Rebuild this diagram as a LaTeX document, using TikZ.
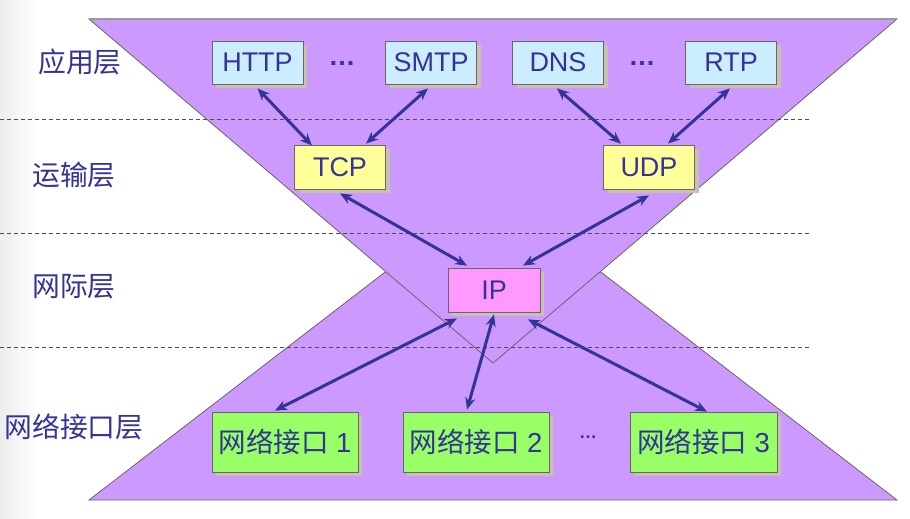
\documentclass[tikz,border=0pt]{standalone}
\usepackage{fontspec}
\setmainfont{Liberation Sans}
\newfontfamily\cjk{Noto Sans CJK SC}
\usetikzlibrary{arrows.meta,shadows}
\definecolor{txtblue}{HTML}{333399}
\definecolor{purp}{HTML}{CC99FF}
\definecolor{edgegray}{HTML}{6E6464}
\definecolor{shadowc}{HTML}{C8C0B0}
\definecolor{appc}{HTML}{CCECFF}
\definecolor{trc}{HTML}{FFFF99}
\definecolor{ipc}{HTML}{FF99FF}
\definecolor{nic}{HTML}{99FF66}
\tikzset{
  proto/.style={draw=edgegray, line width=0.8pt, minimum width=91pt, minimum height=43pt,
    inner sep=0pt, text=txtblue, font=\fontsize{27}{27}\selectfont,
    drop shadow={shadow xshift=4pt, shadow yshift=-4pt, fill=shadowc, opacity=1}},
  nicbox/.style={draw=edgegray, line width=0.8pt, minimum width=146pt, minimum height=60pt,
    inner sep=0pt, fill=nic, text=txtblue, font=\fontsize{27.5}{27.5}\selectfont,
    drop shadow={shadow xshift=4pt, shadow yshift=-4pt, fill=shadowc, opacity=1}},
  layer/.style={text=txtblue, font=\cjk\fontsize{27.8}{27.8}\selectfont, inner sep=0pt},
  dots/.style={text=txtblue, inner sep=0pt},
  link/.style={draw=txtblue, line width=3pt, {Stealth[length=12pt,width=10pt]}-{Stealth[length=12pt,width=10pt]}},
  sep/.style={draw=black!70, line width=0.6pt, dash pattern=on 4pt off 3pt}
}
\begin{document}
\begin{tikzpicture}[x=1pt,y=-1pt]
\useasboundingbox (0,0) rectangle (910,519);
\fill[white] (0,0) rectangle (910,519);
\shade[left color=black!7, right color=white] (0,0) rectangle (40,519);
% bottom triangle
\filldraw[fill=purp, draw=edgegray, line width=0.8pt] (89,500) -- (493,189) -- (897,500) -- cycle;
% top triangle
\filldraw[fill=purp, draw=edgegray, line width=0.8pt] (89,19) -- (897,19) -- (493,363) -- cycle;
\draw[black!40, line width=1.6pt] (89,19) -- (897,19);
% dashed separators
\draw[sep] (0,119) -- (810,119);
\draw[sep] (0,233) -- (810,233);
\draw[sep] (0,347) -- (810,347);
% layer labels
\node[layer] (l1) at (80,62) {应用层};
\node[layer] (l2) at (74,175) {运输层};
\node[layer] (l3) at (74,287) {网际层};
\node[layer] (l4) at (74,427) {网络接口层};
% application protocols
\node[proto, fill=appc] (http) at (257.5,62.5) {HTTP};
\node[dots, font=\bfseries\fontsize{27}{27}\selectfont] (d1) at (342,63) {…};
\node[proto, fill=appc] (smtp) at (431,62.5) {SMTP};
\node[proto, fill=appc] (dns) at (558,62.5) {DNS};
\node[dots, font=\bfseries\fontsize{27}{27}\selectfont] (d2) at (642,63) {…};
\node[proto, fill=appc] (rtp) at (731,62.5) {RTP};
% transport
\node[proto, fill=trc, minimum height=44pt] (tcp) at (340,167) {TCP};
\node[proto, fill=trc, minimum height=44pt] (udp) at (649,167) {UDP};
% internet
\node[proto, fill=ipc, minimum width=92pt, minimum height=44pt] (ip) at (494,290) {IP};
% network interfaces
\node[nicbox] (n1) at (285,442) {{\cjk 网络接口} 1};
\node[nicbox] (n2) at (476,442) {{\cjk 网络接口} 2};
\node[dots, font=\bfseries\fontsize{18}{18}\selectfont] (d3) at (588,437) {…};
\node[nicbox, minimum width=147pt] (n3) at (703.5,442) {{\cjk 网络接口} 3};
% connectors
\draw[link] ([yshift=-4pt]http.south) -- ([xshift=-28pt,yshift=-1pt]tcp.north);
\draw[link] ([xshift=-3pt,yshift=-4pt]smtp.south) -- ([xshift=26pt,yshift=1pt]tcp.north);
\draw[link] ([xshift=-1pt,yshift=-4pt]dns.south) -- ([xshift=-28pt,yshift=1pt]udp.north);
\draw[link] ([xshift=-1pt,yshift=-4pt]rtp.south) -- ([xshift=19pt,yshift=1pt]udp.north);
\draw[link] ([yshift=-4pt]tcp.south) -- ([xshift=-27pt,yshift=2pt]ip.north);
\draw[link] ([yshift=-6pt]udp.south) -- ([xshift=29pt,yshift=2pt]ip.north);
\draw[link] ([xshift=-37pt,yshift=-6pt]ip.south) -- ([xshift=-10pt,yshift=1pt]n1.north);
\draw[link] ([yshift=-2pt]ip.south) -- ([xshift=-9pt,yshift=2pt]n2.north);
\draw[link] ([xshift=34pt,yshift=-7pt]ip.south) -- ([xshift=3.5pt]n3.north);
\end{tikzpicture}
\end{document}
